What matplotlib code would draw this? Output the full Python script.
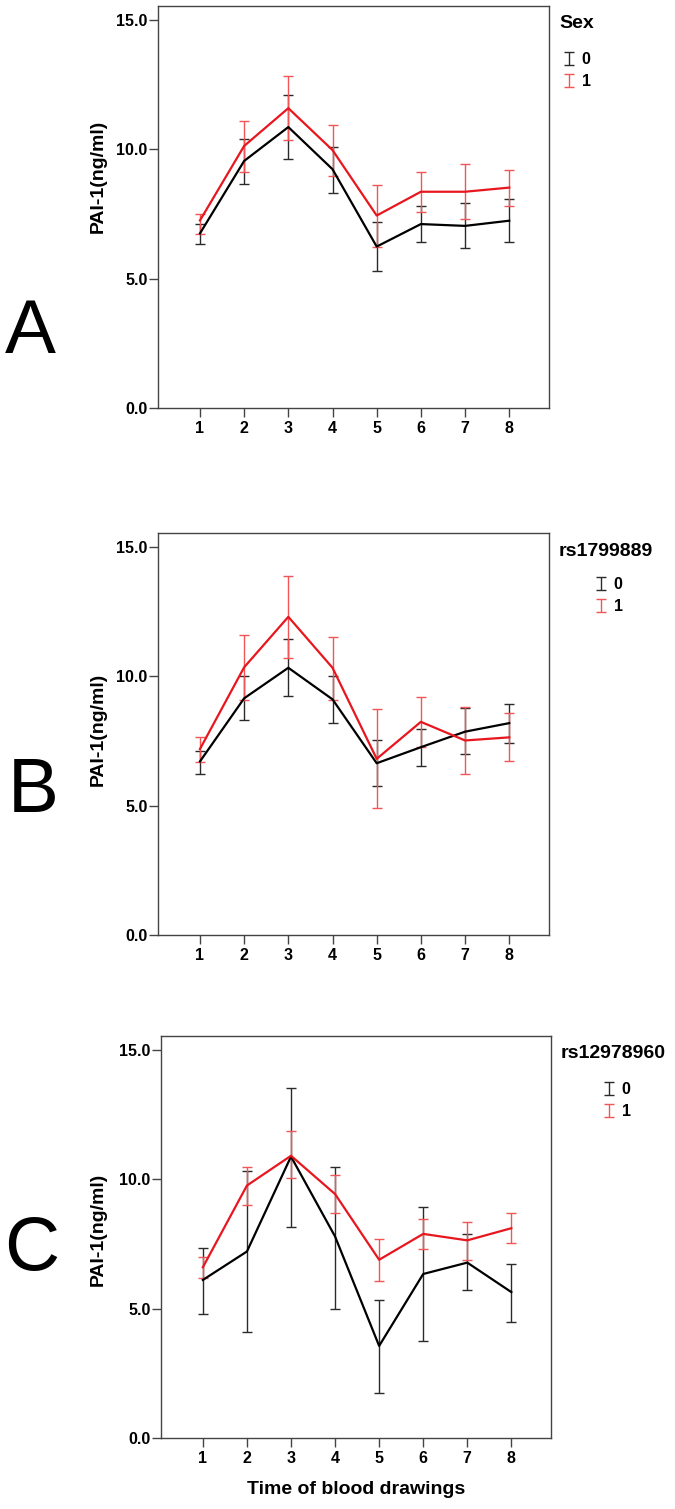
import matplotlib
matplotlib.use("Agg")
import matplotlib.pyplot as plt
from matplotlib.container import ErrorbarContainer
from matplotlib.legend_handler import HandlerErrorbar

plt.rcParams['font.family'] = ['Liberation Sans', 'DejaVu Sans']

# time points
x = [1, 2, 3, 4, 5, 6, 7, 8]
yticks = [0.0, 5.0, 10.0, 15.0]

# panel A - Sex
a_black_mean = [6.75, 9.55, 10.86, 9.23, 6.24, 7.11, 7.04, 7.24]
a_black_lo = [6.33, 8.66, 9.64, 8.30, 5.28, 6.43, 6.19, 6.43]
a_black_hi = [7.11, 10.41, 12.10, 10.10, 7.20, 7.80, 7.91, 8.07]
a_red_mean = [7.25, 10.13, 11.59, 9.97, 7.44, 8.36, 8.36, 8.52]
a_red_lo = [6.73, 9.11, 10.35, 8.98, 6.24, 7.58, 7.29, 7.81]
a_red_hi = [7.51, 11.11, 12.82, 10.93, 8.62, 9.14, 9.43, 9.21]

# panel B - rs1799889
b_black_mean = [6.71, 9.15, 10.33, 9.11, 6.64, 7.26, 7.86, 8.19]
b_black_lo = [6.23, 8.33, 9.23, 8.21, 5.77, 6.54, 6.98, 7.44]
b_black_hi = [7.10, 10.00, 11.45, 10.00, 7.53, 7.97, 8.76, 8.94]
b_red_mean = [7.19, 10.35, 12.30, 10.33, 6.81, 8.24, 7.52, 7.64]
b_red_lo = [6.68, 9.07, 10.72, 9.07, 4.90, 7.27, 6.22, 6.72]
b_red_hi = [7.67, 11.58, 13.89, 11.53, 8.74, 9.21, 8.80, 8.58]

# panel C - rs12978960
c_black_mean = [6.11, 7.21, 10.88, 7.79, 3.56, 6.34, 6.78, 5.64]
c_black_lo = [4.81, 4.09, 8.15, 4.98, 1.74, 3.76, 5.74, 4.50]
c_black_hi = [7.34, 10.33, 13.54, 10.46, 5.35, 8.94, 7.88, 6.74]
c_red_mean = [6.60, 9.76, 10.91, 9.43, 6.89, 7.89, 7.64, 8.11]
c_red_lo = [6.20, 9.02, 10.05, 8.71, 6.07, 7.30, 6.90, 7.54]
c_red_hi = [6.99, 10.49, 11.85, 10.17, 7.68, 8.46, 8.34, 8.70]

group_labels = ['0', '1']

W, H = 675, 1509
fig = plt.figure(figsize=(W / 100, H / 100), dpi=100)


def draw_panel(box, letter, letter_pos, title, title_pos, leg_pos, ylab_c,
               blk, red, last=False):
    l, r, t, b = box
    ax = fig.add_axes([l / W, 1 - b / H, (r - l) / W, (b - t) / H])

    conts = []
    for (m, lo, hi), lc, ec in [(blk, 'black', '#2a2a2a'), (red, '#e8161e', '#f25555')]:
        err = [[mi - a for mi, a in zip(m, lo)], [c - mi for mi, c in zip(m, hi)]]
        ax.plot(x, m, color=lc, lw=1.6, zorder=3)
        eb = ax.errorbar(x, m, yerr=err, fmt='none', ecolor=ec, elinewidth=1.0,
                         capsize=3.6, capthick=1.0, zorder=2)
        conts.append(eb)

    ax.set_xlim(0.05, 8.9)
    ax.set_ylim(0, 15.54)
    ax.set_xticks(x)
    ax.set_yticks(yticks)
    ax.set_yticklabels(['%.1f' % v for v in yticks])
    for s in ax.spines.values():
        s.set_color('#444444')
        s.set_linewidth(1.0)
    ax.tick_params(direction='out', length=6.5, width=1.0, color='#444444',
                   labelsize=11.5)
    ax.tick_params(axis='y', pad=1)
    ax.tick_params(axis='x', pad=3)
    for lab in ax.get_xticklabels() + ax.get_yticklabels():
        lab.set_fontweight('bold')

    ax.set_ylabel('PAI-1(ng/ml)', fontsize=14, fontweight='bold', va='center')
    ax.yaxis.set_label_coords((98 - l) / (r - l), (b - ylab_c) / (b - t))
    if last:
        ax.set_xlabel('Time of blood drawings', fontsize=14, fontweight='bold', va='top')
        ax.xaxis.set_label_coords(0.5, (b - 1481) / (b - t))

    fig.text(letter_pos[0] / W, 1 - letter_pos[1] / H, letter, fontsize=55,
             ha='center', va='baseline')
    fig.text(title_pos[0] / W, 1 - title_pos[1] / H, title, fontsize=14,
             fontweight='bold', ha='left', va='center')
    ax.legend(conts, group_labels, loc='upper left',
              bbox_to_anchor=(leg_pos[0] / W, 1 - leg_pos[1] / H),
              bbox_transform=fig.transFigure, frameon=False, borderpad=0,
              borderaxespad=0, handlelength=0.6, handletextpad=0.5,
              labelspacing=0.45, prop={'weight': 'bold', 'size': 11.5},
              handler_map={ErrorbarContainer: HandlerErrorbar(xerr_size=0.4)})
    return ax


draw_panel((158, 549, 6, 408), 'A', (30, 353), 'Sex', (559, 24), (564, 52), 176,
           (a_black_mean, a_black_lo, a_black_hi), (a_red_mean, a_red_lo, a_red_hi))
draw_panel((158, 549, 533, 935), 'B', (33, 812), 'rs1799889', (559, 552), (596, 577), 729,
           (b_black_mean, b_black_lo, b_black_hi), (b_red_mean, b_red_lo, b_red_hi))
draw_panel((161, 551, 1036, 1438), 'C', (32, 1270), 'rs12978960', (561, 1053), (604, 1082), 1229,
           (c_black_mean, c_black_lo, c_black_hi), (c_red_mean, c_red_lo, c_red_hi), last=True)

fig.savefig('out.png', dpi=100)
